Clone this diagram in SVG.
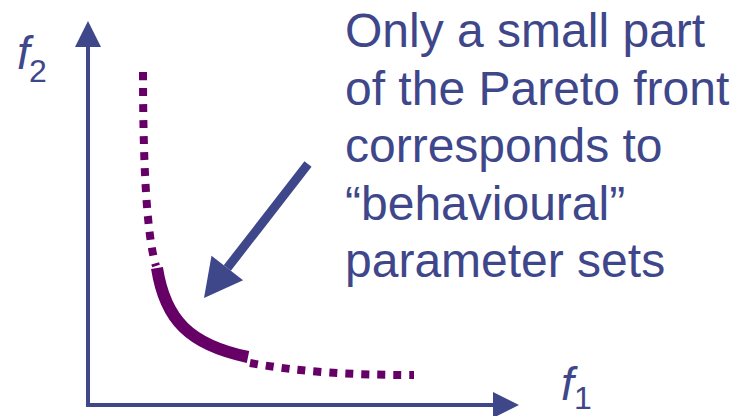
<svg xmlns="http://www.w3.org/2000/svg" width="746" height="416" viewBox="0 0 746 416">
  <style>
    .txt { font-family: "Liberation Sans", Arial, sans-serif; fill: #3f478b; }
    .lbl { font-size: 48px; }
    .axvar { font-style: italic; font-size: 46px; }
    .sub { font-size: 32px; }
    .axis { stroke: #3f478b; stroke-width: 4; fill: none; }
    .dots { stroke: #660066; stroke-width: 8; fill: none; stroke-dasharray: 8 8; }
    .solid { stroke: #660066; stroke-width: 12; fill: none; }
    .pointer { stroke: #3f478b; stroke-width: 9; fill: none; }
  </style>
  <defs>
    <marker id="axhead" markerUnits="userSpaceOnUse" markerWidth="26" markerHeight="26" refX="0" refY="13" orient="auto" overflow="visible">
      <path d="M0,0 L26,13 L0,26 Z" fill="#3f478b"/>
    </marker>
    <marker id="ptrhead" markerUnits="userSpaceOnUse" markerWidth="38" markerHeight="40" refX="0" refY="20" orient="auto" overflow="visible">
      <path d="M0,0 L38,20 L0,40 Z" fill="#3f478b"/>
    </marker>
  </defs>

  <g id="axes">
    <path id="y-axis" class="axis" d="M88,407 L88,47" marker-end="url(#axhead)"/>
    <path id="x-axis" class="axis" d="M86,405 L493,405" marker-end="url(#axhead)"/>
  </g>

  <g id="axis-labels">
    <g id="f2-label">
      <text class="txt axvar" x="17" y="69">f</text>
      <text class="txt sub" x="29" y="82">2</text>
    </g>
    <g id="f1-label">
      <text class="txt axvar" x="561" y="400">f</text>
      <text class="txt sub" x="574" y="409">1</text>
    </g>
  </g>

  <g id="pareto-front">
    <path class="dots" d="M143,72 C143,180 148,240 156,266"/>
    <path class="solid" d="M157,268 C165,320 190,345 248,357"/>
    <path class="dots" d="M250,363 C300,372 350,375 414,375"/>
  </g>

  <g id="connectors">
    <path id="pointer-arrow" class="pointer" d="M308,164 L227.3,268" marker-end="url(#ptrhead)"/>
  </g>

  <g id="annotation">
    <text class="txt lbl" x="345" y="47">Only a small part</text>
    <text class="txt lbl" x="345" y="104.5">of the Pareto front</text>
    <text class="txt lbl" x="345" y="162">corresponds to</text>
    <text class="txt lbl" x="345" y="219.5">“behavioural”</text>
    <text class="txt lbl" x="345" y="277">parameter sets</text>
  </g>
</svg>
